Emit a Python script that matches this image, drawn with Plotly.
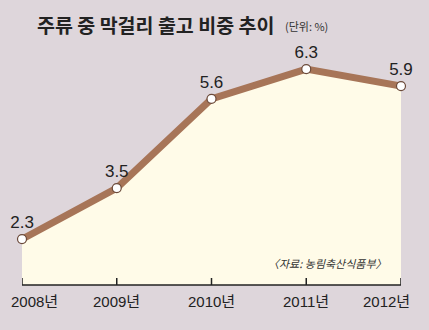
import plotly.graph_objects as go

years = [2008, 2009, 2010, 2011, 2012]
year_labels = ["2008년", "2009년", "2010년", "2011년", "2012년"]
shares = [2.3, 3.5, 5.6, 6.3, 5.9]
value_labels = ["2.3", "3.5", "5.6", "6.3", "5.9"]

title_text = "주류 중 막걸리 출고 비중 추이"
unit_text = "(단위: %)"
source_text = "〈자료: 농림축산식품부〉"

BG = "#ded6db"
FILL = "#fffbe8"
LINE = "#a77558"
INK = "#222222"
NUM_FONT = "Liberation Sans, Noto Sans CJK KR, sans-serif"

L, R, T, B = 22, 28, 40, 45
W = 429 - L - R
H = 330 - T - B
EPS = 1e-4

fig = go.Figure()
fig.add_trace(go.Scatter(
    x=years, y=shares, mode="none", fill="tozeroy", fillcolor=FILL,
    hoverinfo="skip", showlegend=False,
))
fig.add_trace(go.Scatter(
    x=years, y=shares, mode="lines", line=dict(color=LINE, width=7),
    hoverinfo="skip", showlegend=False, cliponaxis=False,
))
fig.add_trace(go.Scatter(
    x=years, y=shares, mode="markers+text", text=value_labels,
    textposition="top center",
    textfont=dict(family=NUM_FONT, size=17, color=INK),
    marker=dict(size=9, color="white", line=dict(color="#6b4a3a", width=1.2)),
    hoverinfo="skip", showlegend=False, cliponaxis=False,
))

annotations = [
    dict(text="<b>" + title_text + "</b>", xref="paper", yref="paper",
         x=(35 - L) / W, y=1 + (T - 25) / H, xanchor="left",
         yanchor="middle", showarrow=False,
         font=dict(family="Noto Sans CJK KR", size=19.5, color=INK)),
    dict(text=unit_text, xref="paper", yref="paper",
         x=(283 - L) / W, y=1 + (T - 26) / H, xanchor="left",
         yanchor="middle", showarrow=False,
         font=dict(family="Noto Sans CJK KR", size=11, color="#333333")),
    dict(text="<i>" + source_text + "</i>", xref="paper", yref="paper",
         x=(389 - L) / W, y=(H + T - 263) / H, xanchor="right",
         yanchor="middle", showarrow=False,
         font=dict(family="Noto Sans CJK KR", size=11, color="#333333")),
]
for i, (yr, lab) in enumerate(zip(years, year_labels)):
    if i == 0:
        anchor, shift = "left", -13
    elif i == len(years) - 1:
        anchor, shift = "right", 11
    else:
        anchor, shift = "center", 0
    annotations.append(dict(
        text=lab, x=yr, xref="x", y=0, yref="paper", yanchor="top",
        xanchor=anchor, xshift=shift, yshift=-6, showarrow=False,
        font=dict(family=NUM_FONT, size=15, color=INK),
    ))

shapes = [dict(type="line", xref="x", yref="paper", x0=years[0], x1=years[-1],
               y0=0, y1=0, layer="above", line=dict(color=INK, width=1.5))]
for yr in years:
    shapes.append(dict(type="line", xref="x", yref="paper", x0=yr, x1=yr,
                       y0=0, y1=7 / H, layer="above",
                       line=dict(color=INK, width=1.5)))

fig.update_layout(
    width=429, height=330,
    margin=dict(l=L, r=R, t=T, b=B),
    paper_bgcolor=BG, plot_bgcolor="rgba(0,0,0,0)",
    xaxis=dict(
        range=[years[0] - EPS, years[-1] + EPS], visible=False,
        showgrid=False, zeroline=False, fixedrange=True,
    ),
    yaxis=dict(
        range=[1.22, 6.985], visible=False, showgrid=False, zeroline=False,
        fixedrange=True,
    ),
    annotations=annotations,
    shapes=shapes,
)

fig.write_html("out.html")
